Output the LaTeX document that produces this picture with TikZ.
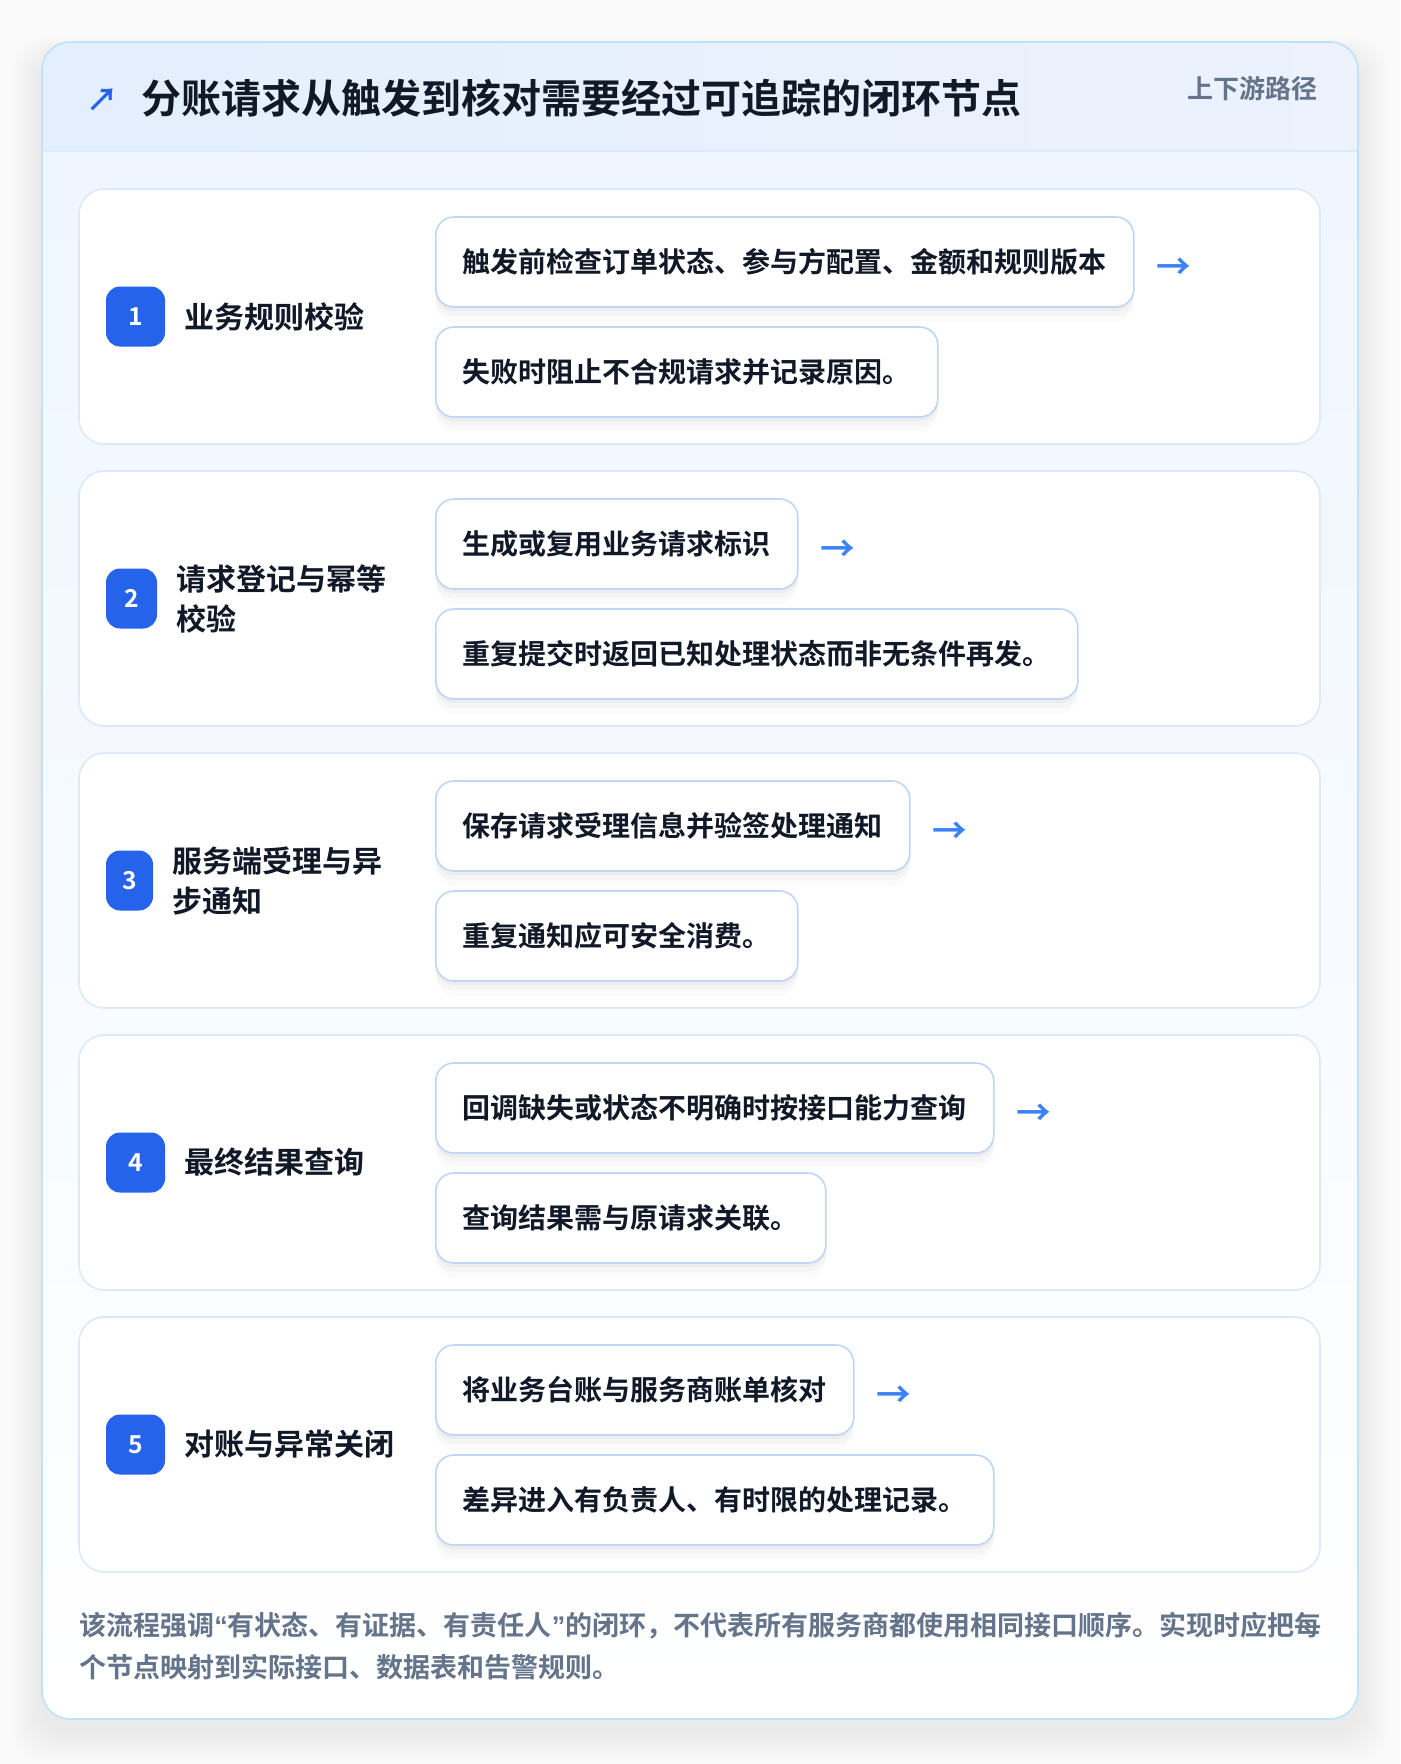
\documentclass[tikz,border=0pt]{standalone}
\usepackage{fontspec}
\setmainfont{Noto Sans CJK SC}[BoldFont={Noto Sans CJK SC Bold}]
\newfontfamily\qfont{Liberation Sans}
\usetikzlibrary{shadows}
\definecolor{pagebg}{HTML}{FAFAFB}
\definecolor{hdrL}{HTML}{E3EFFD}
\definecolor{hdrR}{HTML}{EDF2FD}
\definecolor{bodyT}{HTML}{EFF6FF}
\definecolor{outerline}{HTML}{BEE3F8}
\definecolor{hdrline}{HTML}{DBEAFE}
\definecolor{rowline}{HTML}{DCE9FA}
\definecolor{boxline}{HTML}{BFD6F6}
\definecolor{badgeblue}{HTML}{2563EB}
\definecolor{ink}{HTML}{111827}
\definecolor{muted}{HTML}{64748B}
\definecolor{arrowblue}{HTML}{3B82F6}
\tikzset{
  rowcard/.style={draw=rowline, fill=white, line width=1.2pt, rounded corners=19pt,
    minimum width=930.75pt, minimum height=191.25pt, inner sep=0pt},
  badge/.style={fill=badgeblue, rounded corners=10.5pt, minimum height=45pt, inner sep=0pt,
    text=white, font=\fontsize{18.5pt}{20pt}\selectfont\bfseries},
  steplabel/.style={anchor=west, inner sep=0pt, align=left, text=ink,
    font=\fontsize{22.5pt}{30pt}\selectfont\bfseries},
  stepbox/.style={anchor=west, draw=boxline, fill=white, line width=1.2pt, rounded corners=13.5pt,
    minimum height=67.5pt, inner xsep=20.25pt, inner ysep=0pt, text=ink,
    font=\fontsize{21pt}{25pt}\selectfont\bfseries,
    drop shadow={shadow xshift=0pt, shadow yshift=-3pt, opacity=0.03, fill=black},
    drop shadow={shadow xshift=0pt, shadow yshift=-7pt, opacity=0.025, fill=black},
    drop shadow={shadow xshift=0pt, shadow yshift=-11pt, opacity=0.015, fill=black}},
  arrowtxt/.style={anchor=west, inner sep=0pt, text=arrowblue, font=\fontsize{26pt}{28pt}\selectfont\bfseries},
  titletxt/.style={anchor=west, inner sep=0pt, text=ink, font=\fontsize{30pt}{36pt}\selectfont\bfseries},
  subtxt/.style={anchor=east, inner sep=0pt, text=muted, font=\fontsize{19.5pt}{24pt}\selectfont\bfseries},
  foottxt/.style={anchor=west, inner sep=0pt, align=left, text=muted, font=\fontsize{20.25pt}{31.5pt}\selectfont\bfseries},
}
\newcommand\StepRow[5]{%
  \pgfmathsetmacro\rt{189+282*(#1-1)}%
  \node[rowcard] (card#1) at (699.5,{\rt+127.5}) {};
  \node[badge, minimum width=#2*0.75pt] (badge#1) at ({106+#2/2},{\rt+127.5}) {#1};
  \node[steplabel] (label#1) at ({106+#2+19},{\rt+127.5}) {#3};
  \node[stepbox] (top#1) at (435,{\rt+73}) {#4};
  \node[stepbox] (bot#1) at (435,{\rt+183}) {#5};
  \node[arrowtxt] (arr#1) at ([xshift=16pt,yshift=-5pt]top#1.east) {→};
}
\begin{document}
\begin{tikzpicture}[x=0.75pt,y=-0.75pt]
\useasboundingbox (0,0) rectangle (1400,1764);
\fill[pagebg] (0,0) rectangle (1400,1764);
% soft shadow of the main card
\foreach \i in {1,...,16}{
  \fill[black, opacity=0.005, rounded corners=24pt]
    ({42-2*\i},{54-1*\i}) rectangle ({1358+2*\i},{1731+2*\i});
}
\begin{scope}
  \clip[rounded corners=21pt] (42,42) rectangle (1358,1719);
  \shade[left color=hdrL, right color=hdrR] (42,42) rectangle (1358,151);
  \shade[top color=bodyT, bottom color=white] (42,151) rectangle (1358,1719);
\end{scope}
\draw[hdrline, line width=1.5pt] (42,151) -- (1358,151);
\draw[outerline, line width=1.2pt, rounded corners=21pt] (42,42) rectangle (1358,1719);

% header
\node[inner sep=0pt, text=badgeblue, font=\fontsize{24pt}{26pt}\selectfont\bfseries] (icon) at (102,100) {↗};
\node[titletxt] (title) at (141,98) {分账请求从触发到核对需要经过可追踪的闭环节点};
\node[subtxt] (sub) at (1318,89) {上下游路径};

% rows
\StepRow{1}{59}{业务规则校验}{触发前检查订单状态、参与方配置、金额和规则版本}{失败时阻止不合规请求并记录原因。}
\StepRow{2}{51}{请求登记与幂等\\校验}{生成或复用业务请求标识}{重复提交时返回已知处理状态而非无条件再发。}
\StepRow{3}{47}{服务端受理与异\\步通知}{保存请求受理信息并验签处理通知}{重复通知应可安全消费。}
\StepRow{4}{59}{最终结果查询}{回调缺失或状态不明确时按接口能力查询}{查询结果需与原请求关联。}
\StepRow{5}{59}{对账与异常关闭}{将业务台账与服务商账单核对}{差异进入有负责人、有时限的处理记录。}

% footer
\node[foottxt] (foot) at (79,1646) {该流程强调{\qfont “}有状态、有证据、有责任人{\qfont ”}的闭环，不代表所有服务商都使用相同接口顺序。实现时应把每\\个节点映射到实际接口、数据表和告警规则。};
\end{tikzpicture}
\end{document}
